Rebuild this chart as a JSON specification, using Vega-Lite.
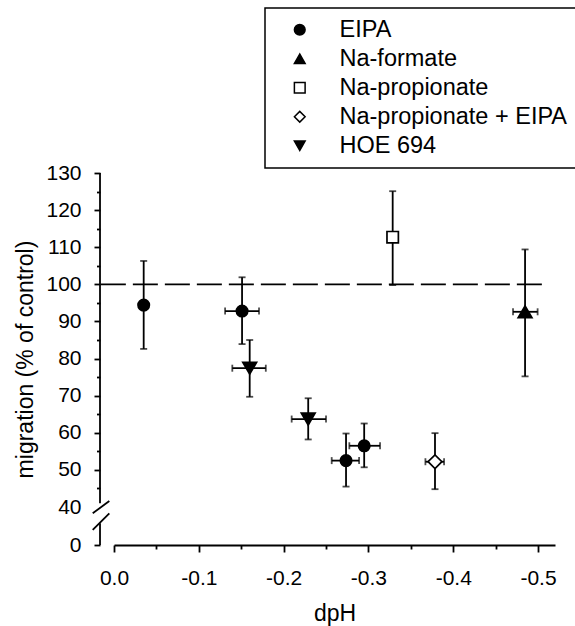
{
  "$schema": "https://vega.github.io/schema/vega-lite/v6.json",
  "width": 441,
  "height": 372,
  "autosize": "none",
  "padding": {"left": 114, "top": 173, "right": 20, "bottom": 81},
  "background": "white",
  "data": {
    "values": [
      {"group": "EIPA", "dpH": -0.035, "mig": 94.4, "ylo": 82.6, "yhi": 106.3, "xlo": null, "xhi": null},
      {"group": "EIPA", "dpH": -0.151, "mig": 92.8, "ylo": 83.9, "yhi": 101.9, "xlo": -0.131, "xhi": -0.171},
      {"group": "HOE 694", "dpH": -0.16, "mig": 77.4, "ylo": 69.7, "yhi": 85.0, "xlo": -0.1395, "xhi": -0.179},
      {"group": "HOE 694", "dpH": -0.229, "mig": 63.7, "ylo": 58.2, "yhi": 69.3, "xlo": -0.2095, "xhi": -0.25},
      {"group": "EIPA", "dpH": -0.2736, "mig": 52.5, "ylo": 45.5, "yhi": 59.8, "xlo": -0.2567, "xhi": -0.289},
      {"group": "EIPA", "dpH": -0.295, "mig": 56.5, "ylo": 50.7, "yhi": 62.5, "xlo": -0.2775, "xhi": -0.3137},
      {"group": "Na-propionate", "dpH": -0.3286, "mig": 112.7, "ylo": 99.8, "yhi": 125.1, "xlo": null, "xhi": null},
      {"group": "Na-propionate + EIPA", "dpH": -0.3785, "mig": 52.2, "ylo": 44.8, "yhi": 59.9, "xlo": -0.3672, "xhi": -0.3892},
      {"group": "Na-formate", "dpH": -0.4847, "mig": 92.6, "ylo": 75.2, "yhi": 109.4, "xlo": -0.4705, "xhi": -0.4995}
    ]
  },
  "resolve": {"axis": {"x": "independent", "y": "independent"}},
  "layer": [
    {
      "data": {"values": [{}]},
      "mark": {"type": "rule", "strokeDash": [25, 7], "strokeWidth": 1.8, "color": "black"},
      "encoding": {
        "x": {"datum": 0.0155, "type": "quantitative",
          "scale": {"domain": [0, -0.52], "nice": false, "zero": false},
          "axis": {"orient": "bottom", "values": [-0.05, -0.15, -0.25, -0.35, -0.45], "labels": false, "domain": false, "tickSize": 4, "title": null}},
        "x2": {"datum": -0.5105},
        "y": {"datum": 100, "type": "quantitative",
          "scale": {"domain": [0, 40, 130], "range": [372, 334, 0], "nice": false, "zero": false},
          "axis": {"orient": "left", "offset": 14, "values": [45, 55, 65, 75, 85, 95, 105, 115, 125], "labels": false, "domain": false, "tickSize": 3.5, "title": null}}
      }
    },
    {
      "data": {"values": [{}]},
      "mark": {"type": "rule", "strokeWidth": 1.8, "color": "black"},
      "encoding": {
        "x": {"datum": 0.0165, "type": "quantitative", "axis": null},
        "y": {"datum": 130, "type": "quantitative", "axis": null},
        "y2": {"datum": 41}
      }
    },
    {
      "data": {"values": [{}]},
      "mark": {"type": "rule", "strokeWidth": 1.8, "color": "black"},
      "encoding": {
        "x": {"datum": 0.0165, "type": "quantitative", "axis": null},
        "y": {"datum": 23, "type": "quantitative", "axis": null},
        "y2": {"datum": 0}
      }
    },
    {
      "data": {"values": [{}]},
      "mark": {"type": "rule", "strokeWidth": 1.8, "color": "black"},
      "encoding": {
        "x": {"datum": 0.0251, "type": "quantitative", "axis": null},
        "x2": {"datum": 0.0055},
        "y": {"datum": 33.4, "type": "quantitative", "axis": null},
        "y2": {"datum": 41.6}
      }
    },
    {
      "data": {"values": [{}]},
      "mark": {"type": "rule", "strokeWidth": 1.8, "color": "black"},
      "encoding": {
        "x": {"datum": 0.0251, "type": "quantitative", "axis": null},
        "x2": {"datum": 0.0055},
        "y": {"datum": 15.8, "type": "quantitative", "axis": null},
        "y2": {"datum": 33.4}
      }
    },
    {
      "mark": {"type": "errorbar", "ticks": {"size": 7}, "thickness": 1.8, "color": "black"},
      "encoding": {
        "x": {"field": "dpH", "type": "quantitative", "axis": null},
        "y": {"field": "ylo", "type": "quantitative", "axis": null},
        "y2": {"field": "yhi"}
      }
    },
    {
      "transform": [{"filter": "datum.xlo != null"}],
      "mark": {"type": "errorbar", "ticks": {"size": 7}, "thickness": 1.8, "color": "black"},
      "encoding": {
        "x": {"field": "xlo", "type": "quantitative", "axis": null},
        "x2": {"field": "xhi"},
        "y": {"field": "mig", "type": "quantitative", "axis": null}
      }
    },
    {
      "mark": {"type": "point", "strokeWidth": 1.7, "opacity": 1},
      "encoding": {
        "x": {"field": "dpH", "type": "quantitative", "title": "dpH",
          "scale": {"domain": [0, -0.52], "nice": false, "zero": false},
          "axis": {"orient": "bottom", "values": [0, -0.1, -0.2, -0.3, -0.4, -0.5], "tickSize": 7, "labelPadding": 15, "titlePadding": 14, "labelFlush": false,
            "labelExpr": "datum.value == 0 ? '0.0' : '-' + format(abs(datum.value), '.1f')"}},
        "y": {"field": "mig", "type": "quantitative", "title": "migration (% of control)",
          "scale": {"domain": [0, 40, 130], "range": [372, 334, 0], "nice": false, "zero": false},
          "axis": {"orient": "left", "offset": 14, "domain": false, "values": [0, 40, 50, 60, 70, 80, 90, 100, 110, 120, 130], "tickSize": 6, "labelPadding": 13, "titlePadding": 8, "labelFlush": false,
            "tickOpacity": {"condition": {"test": "datum.value == 40", "value": 0}, "value": 1}}},
        "size": {"condition": {"test": "datum.group == 'EIPA' || datum.group == 'Na-propionate'", "value": 130}, "value": 190},
        "shape": {"field": "group", "type": "nominal",
          "scale": {"domain": ["EIPA", "Na-formate", "Na-propionate", "Na-propionate + EIPA", "HOE 694"],
            "range": ["circle", "triangle-up", "square", "diamond", "triangle-down"]},
          "legend": {"orient": "none", "legendX": 151, "legendY": -165, "title": null}},
        "fill": {"field": "group", "type": "nominal",
          "scale": {"domain": ["EIPA", "Na-formate", "Na-propionate", "Na-propionate + EIPA", "HOE 694"],
            "range": ["black", "black", "white", "white", "black"]},
          "legend": {"orient": "none", "legendX": 151, "legendY": -165, "title": null}},
        "stroke": {"field": "group", "type": "nominal",
          "scale": {"domain": ["EIPA", "Na-formate", "Na-propionate", "Na-propionate + EIPA", "HOE 694"],
            "range": ["black", "black", "black", "black", "black"]},
          "legend": {"orient": "none", "legendX": 151, "legendY": -165, "title": null}}
      }
    }
  ],
  "config": {
    "font": "Liberation Sans",
    "view": {"stroke": null},
    "axis": {
      "grid": false,
      "domainColor": "black",
      "domainWidth": 1.8,
      "tickColor": "black",
      "tickWidth": 1.8,
      "labelColor": "black",
      "labelFontSize": 21,
      "titleColor": "black",
      "titleFontSize": 23,
      "titleFontWeight": "normal"
    },
    "legend": {
      "strokeColor": "black",
      "strokeWidth": 1.5,
      "fillColor": "white",
      "padding": 10,
      "symbolOffset": 13,
      "labelOffset": 28,
      "rowPadding": 4,
      "labelFontSize": 23.5,
      "labelColor": "black",
      "labelLimit": 400,
      "symbolSize": 115,
      "symbolStrokeWidth": 1.5
    }
  }
}
